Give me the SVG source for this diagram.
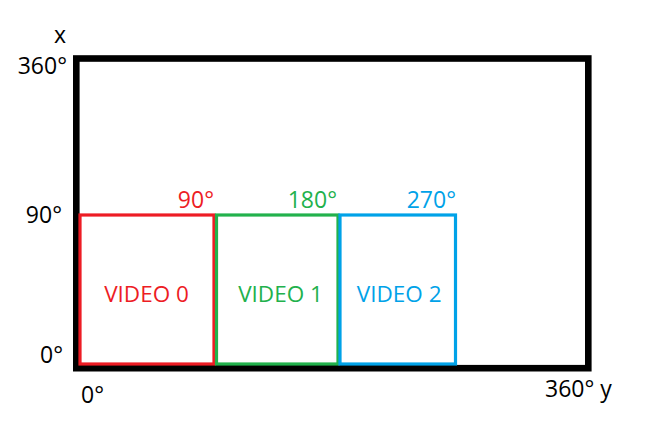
<svg xmlns="http://www.w3.org/2000/svg" width="663" height="436" viewBox="0 0 663 436">
<style>
.t{font-family:"Open Sans","Noto Sans","Liberation Sans",sans-serif;font-size:23px;fill:#000}
.v{font-family:"Open Sans","Noto Sans","Liberation Sans",sans-serif;font-size:22.5px;text-anchor:middle}
.box{fill:none;stroke-width:3.2}
.red{stroke:#ED1C24}.green{stroke:#22B14C}.blue{stroke:#00A2E8}
</style>
<rect width="663" height="436" fill="#fff"/>
<g id="frame">
<rect x="76.3" y="58.5" width="512" height="309.7" fill="none" stroke="#000" stroke-width="6.6"/>
</g>
<g id="axis-labels">
<text class="t" x="66" y="43" text-anchor="end">x</text>
<text class="t" x="67" y="74" text-anchor="end">360°</text>
<text class="t" x="62" y="223" text-anchor="end">90°</text>
<text class="t" x="63" y="363" text-anchor="end">0°</text>
<text class="t" x="81" y="403">0°</text>
<text class="t" x="545" y="397">360° y</text>
</g>
<g id="video0">
<rect class="box red" x="80" y="215" width="134" height="149"/>
<text class="v" x="146.5" y="302" fill="#ED1C24">VIDEO 0</text>
<text class="t" x="214" y="208" text-anchor="end" style="fill:#ED1C24">90°</text>
</g>
<g id="video1">
<rect class="box green" x="216.5" y="215" width="121.5" height="149"/>
<text class="v" x="280.5" y="302" fill="#22B14C">VIDEO 1</text>
<text class="t" x="337" y="208" text-anchor="end" style="fill:#22B14C">180°</text>
</g>
<g id="video2">
<rect class="box blue" x="340" y="215" width="115.5" height="149"/>
<text class="v" x="399.2" y="302" fill="#00A2E8">VIDEO 2</text>
<text class="t" x="456" y="208" text-anchor="end" style="fill:#00A2E8">270°</text>
</g>
<g id="connectors"></g>
</svg>
